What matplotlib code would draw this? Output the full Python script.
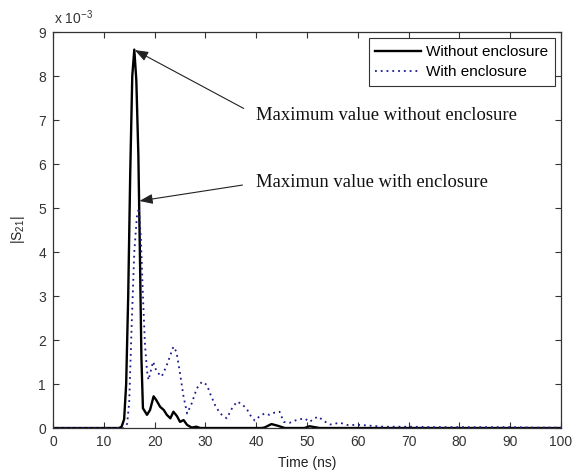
import numpy as np
import matplotlib
matplotlib.use('Agg')
import matplotlib.pyplot as plt

# |S21| values in units of 1e-3
t_without = [0, 13.0, 13.5, 14.0, 14.4, 14.8, 15.2, 15.6, 16.0, 16.4, 16.8, 17.1, 17.4, 17.7,
             18.5, 19.1, 19.8, 20.3, 21.1, 21.8, 22.4, 23.1, 23.7, 24.4, 25.0, 25.7, 26.4,
             27.3, 28.2, 29.0, 41.0, 41.6, 43.0, 44.3, 45.6, 49.5, 50.5, 51.5, 52.5, 100]
s_without = [0, 0, 0.03, 0.2, 1.0, 3.0, 5.8, 8.0, 8.6, 7.9, 6.2, 4.0, 1.6, 0.45,
             0.3, 0.41, 0.72, 0.64, 0.48, 0.41, 0.3, 0.22, 0.37, 0.27, 0.14, 0.18, 0.07,
             0.01, 0.03, 0, 0, 0.01, 0.09, 0.05, 0, 0, 0.04, 0.02, 0, 0]

t_with = [0, 14.0, 14.6, 15.0, 15.5, 16.0, 16.5, 16.9, 17.3, 17.7, 18.1, 18.5, 18.8, 19.7,
          20.4, 21.4, 22.4, 23.7, 24.3, 25.0, 25.7, 26.4, 27.3, 28.3, 29.3, 30.3, 30.9,
          31.9, 32.9, 34.2, 35.2, 36.2, 37.1, 38.1, 39.0, 39.7, 40.6, 41.6, 42.6, 43.6,
          44.6, 45.4, 46.6, 47.9, 49.5, 50.5, 51.5, 52.2, 53.3, 54.5, 56.5, 57.9, 60.5,
          65.0, 70.0, 75.0, 80.0, 85.0, 90.0, 95.0, 100]
s_with = [0, 0, 0.1, 0.6, 2.4, 4.0, 4.8, 5.0, 4.3, 3.0, 1.9, 1.3, 1.09, 1.51,
          1.28, 1.17, 1.43, 1.85, 1.73, 1.24, 0.71, 0.33, 0.56, 0.9, 1.05, 0.98, 0.79,
          0.52, 0.33, 0.22, 0.44, 0.6, 0.55, 0.44, 0.26, 0.17, 0.26, 0.33, 0.3, 0.35,
          0.37, 0.14, 0.12, 0.18, 0.22, 0.14, 0.22, 0.26, 0.16, 0.08, 0.12, 0.07, 0.07,
          0.03, 0.03, 0.02, 0.02, 0.02, 0.02, 0.01, 0.01]

xticks = np.arange(0, 101, 10)
yticks = np.arange(0, 10, 1)

plt.rcParams['font.family'] = ['Liberation Sans', 'DejaVu Sans']
plt.rcParams['mathtext.fontset'] = 'custom'
plt.rcParams['mathtext.rm'] = 'Liberation Sans'
plt.rcParams['mathtext.it'] = 'Liberation Sans'

fig = plt.figure(figsize=(5.75, 4.75), dpi=100)
ax = fig.add_axes([0.0922, 0.0989, 0.8835, 0.8337])

ax.plot(t_without, s_without, color='black', lw=1.7, label='Without enclosure')
ax.plot(t_with, s_with, color='#1a1a8c', lw=1.3, ls=(0, (1, 2.2)), label='With enclosure')

ax.set_xlim(0, 100)
ax.set_ylim(0, 9)
ax.set_xticks(xticks)
ax.set_yticks(yticks)
ax.tick_params(direction='in', top=True, right=True, length=4, width=0.8,
               labelsize=10, colors='#333333', pad=5)
for s in ax.spines.values():
    s.set_color('#333333')
    s.set_linewidth(0.9)

ax.set_xlabel('Time (ns)', fontsize=10, color='#222222', labelpad=5)
ax.set_ylabel('|S$_{21}$|', fontsize=10, color='#222222', labelpad=8)
ax.text(0.002, 1.012, r'x 10$^{-3}$', transform=ax.transAxes, fontsize=10,
        color='#333333', ha='left', va='bottom')

leg = ax.legend(loc='upper right', fontsize=11, fancybox=False, framealpha=1,
                edgecolor='#333333', handlelength=3.0, borderaxespad=0.4,
                borderpad=0.45, labelspacing=0.4, handletextpad=0.3)
leg.get_frame().set_linewidth(0.8)

arrow = dict(arrowstyle='-|>,head_length=0.8,head_width=0.3', color='#222222',
             lw=0.8, mutation_scale=10, shrinkA=8, shrinkB=0, relpos=(0, 0.5))
ax.annotate('Maximum value without enclosure', xy=(16.1, 8.59), xytext=(40.0, 7.11),
            ha='left', va='center', fontsize=13.4, family='Liberation Serif',
            color='#111111', arrowprops=arrow)
ax.annotate('Maximun value with enclosure', xy=(17.0, 5.16), xytext=(40.0, 5.57),
            ha='left', va='center', fontsize=13.4, family='Liberation Serif',
            color='#111111', arrowprops=arrow)

fig.savefig('out.png', dpi=100)
